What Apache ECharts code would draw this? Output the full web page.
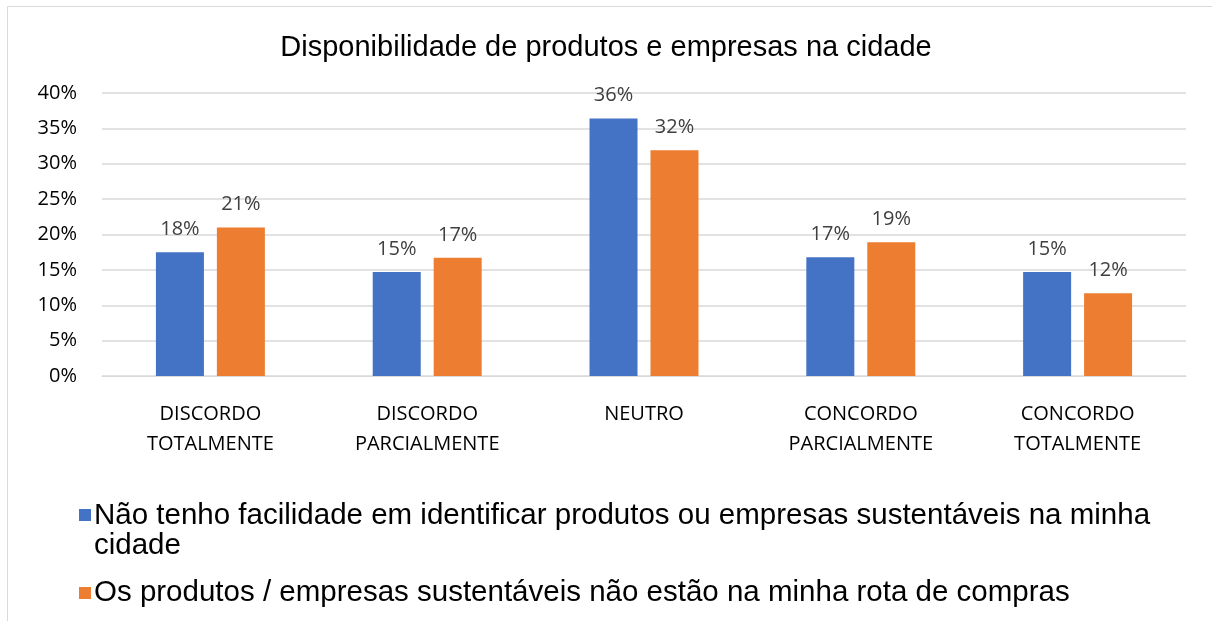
<!DOCTYPE html>
<html><head><meta charset="utf-8">
<script src="https://cdn.jsdelivr.net/npm/echarts@6/dist/echarts.min.js"></script>
<style>html,body{margin:0;padding:0;background:#fff}#c{width:1212px;height:621px}</style>
</head><body><div id="c"></div>
<script>
const categories = ['DISCORDO\nTOTALMENTE', 'DISCORDO\nPARCIALMENTE', 'NEUTRO', 'CONCORDO\nPARCIALMENTE', 'CONCORDO\nTOTALMENTE'];
const seriesNames = ['Não tenho facilidade em identificar produtos ou empresas sustentáveis na minha cidade', 'Os produtos / empresas sustentáveis não estão na minha rota de compras'];
const valuesA = [17.5, 14.7, 36.4, 16.8, 14.7];
const valuesB = [21.0, 16.7, 31.9, 18.9, 11.7];
const yTicks = [0, 5, 10, 15, 20, 25, 30, 35, 40];
const colors = ['#4472C4', '#ED7D31'];

const chart = echarts.init(document.getElementById('c'));
const labelStyle = {
  show: true, position: 'top', distance: 13, color: '#404040', fontSize: 20,
  fontFamily: 'Open Sans', formatter: p => Math.round(p.value) + '%'
};
// legend icons: square placed at the top (first text line) or centred
const iconTop = 'path://M0,0 L12,0 L12,12 L0,12 Z M0,44 L12,44';
const iconMid = 'path://M0,0 L12,0 M0,16 L12,16 L12,28 L0,28 Z M0,44 L12,44';
chart.setOption({
  animation: false,
  title: {
    text: 'Disponibilidade de produtos e empresas na cidade',
    left: 'center', top: 28,
    textStyle: { fontFamily: 'Liberation Sans', fontSize: 29, fontWeight: 'normal', color: '#000' }
  },
  graphic: [{
    type: 'rect', shape: { x: 7.5, y: 6.5, width: 1220, height: 630 },
    style: { fill: 'none', stroke: '#d9d9d9', lineWidth: 1 }, silent: true, z: -1
  }],
  grid: { left: 102, right: 26, top: 93, bottom: 245 },
  legend: {
    orient: 'vertical', left: 74, top: 496, itemWidth: 12, itemHeight: 44, itemGap: 10,
    textStyle: {
      fontFamily: 'Liberation Sans', fontSize: 29.5, color: '#000', width: 1100,
      overflow: 'break', lineHeight: 30, padding: [0, 0, 0, -2]
    },
    data: [{ name: seriesNames[0], icon: iconTop }, { name: seriesNames[1], icon: iconMid }]
  },
  xAxis: {
    type: 'category', data: categories,
    axisLine: { lineStyle: { color: '#d9d9d9' } },
    axisTick: { show: false },
    axisLabel: { color: '#000', fontSize: 20, fontFamily: 'Open Sans', lineHeight: 30, margin: 23, interval: 0 }
  },
  yAxis: {
    type: 'value', min: 0, max: 40, interval: 5,
    axisLine: { show: false }, axisTick: { show: false },
    splitLine: { lineStyle: { color: '#d9d9d9', width: 1.5 } },
    axisLabel: {
      color: '#000', fontSize: 20, fontFamily: 'Open Sans', margin: 25,
      formatter: v => yTicks.includes(v) ? v + '%' : ''
    }
  },
  series: [
    { name: seriesNames[0], type: 'bar', data: valuesA, itemStyle: { color: colors[0] },
      barWidth: 48, barGap: '27%', label: labelStyle },
    { name: seriesNames[1], type: 'bar', data: valuesB, itemStyle: { color: colors[1] },
      barWidth: 48, barGap: '27%', label: labelStyle }
  ]
});
</script></body></html>
